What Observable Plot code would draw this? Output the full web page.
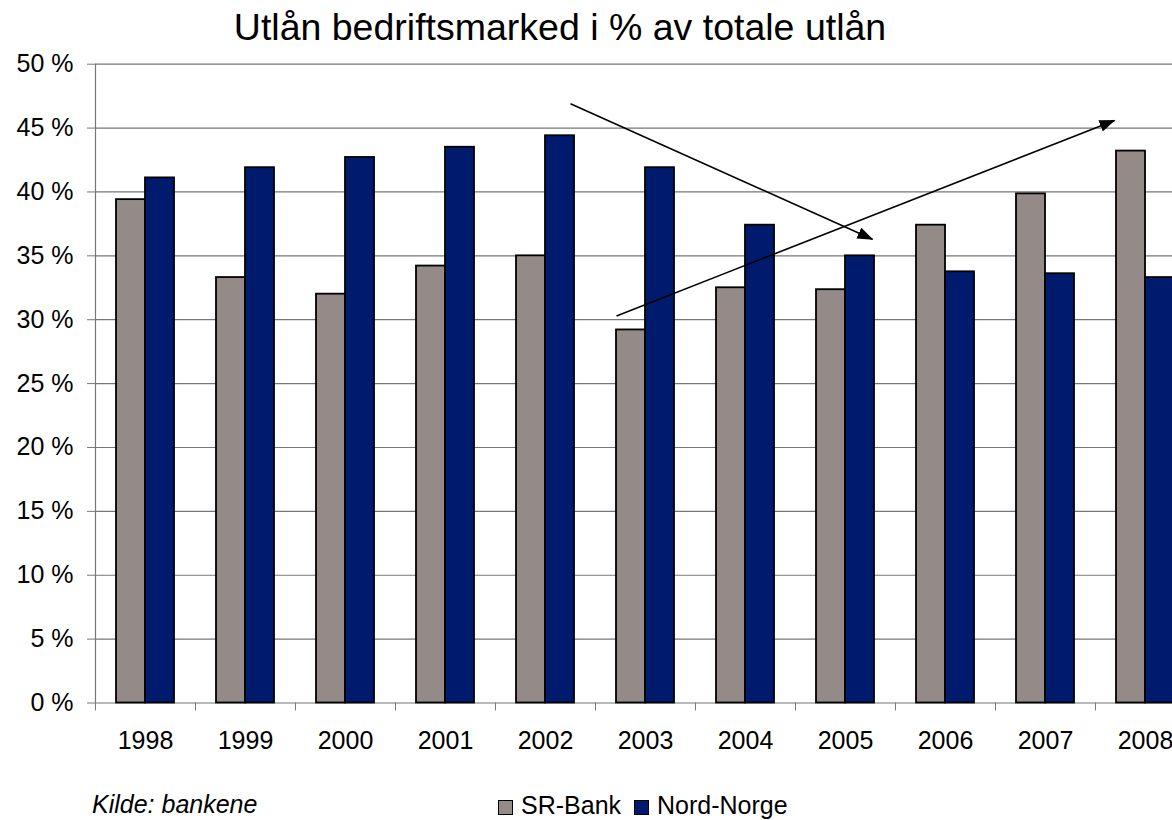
<!DOCTYPE html>
<html>
<head>
<meta charset="utf-8">
<script src="https://cdn.jsdelivr.net/npm/d3@7"></script>
<script src="https://cdn.jsdelivr.net/npm/@observablehq/plot@0.6"></script>
<style>
  html, body { margin: 0; padding: 0; background: #fff; }
  #wrap { position: relative; width: 1172px; height: 820px; overflow: hidden; background: #fff;
          font-family: "Liberation Sans", Arial, sans-serif; color: #000; }
  #title { position: relative; height: 50px; }
  #title span { position: absolute; left: 0; width: 1120px; top: 9px; text-align: center;
                font-size: 37.5px; line-height: 37.5px; white-space: nowrap; }
  #chart { height: 720px; }
  #chart svg { display: block; overflow: hidden; }
  #footer { position: relative; height: 50px; }
  #source { position: absolute; left: 92px; top: 22px; font-size: 25px; line-height: 25px; font-style: italic; white-space: nowrap; }
  #legend { position: absolute; left: 498px; top: 23px; font-size: 25px; line-height: 25px; white-space: nowrap; display: flex; align-items: center; }
  .sw { display: inline-block; width: 13px; height: 13px; border: 1px solid #000; margin-right: 8px; position: relative; top: 2px; }
  .item { display: inline-flex; align-items: center; margin-right: 13px; }
</style>
</head>
<body>
<div id="wrap">
  <div id="title"><span>Utlån bedriftsmarked i % av totale utlån</span></div>
  <div id="chart"></div>
  <div id="footer">
    <div id="source">Kilde: bankene</div>
    <div id="legend"></div>
  </div>
</div>
<script>
// ---- data ----
const years = [1998, 1999, 2000, 2001, 2002, 2003, 2004, 2005, 2006, 2007, 2008];
const srBank = [39.4, 33.3, 32.0, 34.2, 35.0, 29.2, 32.5, 32.35, 37.4, 39.85, 43.2];
const nordNorge = [41.1, 41.9, 42.7, 43.5, 44.4, 41.9, 37.4, 35.0, 33.75, 33.6, 33.3];
const seriesNames = ["SR-Bank", "Nord-Norge"];
const seriesColors = ["#948a87", "#001a6e"];
const yTicks = [0, 5, 10, 15, 20, 25, 30, 35, 40, 45, 50];
// annotation arrows, in data units (year, percent)
const arrowStartX = [2002.25, 2002.71];
const arrowStartY = [46.9, 30.3];
const arrowEndX = [2005.27, 2007.69];
const arrowEndY = [36.3, 45.6];

// ---- derived tables ----
const halfBar = 0.29;
const rows = [];
years.forEach((yr, i) => {
  rows.push({year: yr, series: seriesNames[0], value: srBank[i]});
  rows.push({year: yr, series: seriesNames[1], value: nordNorge[i]});
});
const arrows = arrowStartX.map((x, i) => ({x1: x, y1: arrowStartY[i], x2: arrowEndX[i], y2: arrowEndY[i]}));
const xDomain = [years[0] - 0.5, years[years.length - 1] + 0.5];
const boundaries = years.map(y => y - 0.5);
const gray = "#777777";

const chart = Plot.plot({
  width: 1172,
  height: 720,
  marginTop: 13.7,
  marginBottom: 67.5,
  marginLeft: 95,
  marginRight: 0,
  style: {fontSize: "25px", fontFamily: "'Liberation Sans', Arial, sans-serif", color: "#000", background: "#fff"},
  x: {type: "linear", domain: xDomain, range: [95, 1195], label: null},
  y: {domain: [0, 50], label: null},
  color: {domain: seriesNames, range: seriesColors},
  marks: [
    Plot.ruleY(yTicks, {stroke: gray, strokeWidth: 1.2}),
    Plot.rect(rows, {
      x1: d => d.series === seriesNames[0] ? d.year - halfBar : d.year,
      x2: d => d.series === seriesNames[0] ? d.year : d.year + halfBar,
      y1: 0,
      y2: "value",
      fill: "series",
      stroke: "#000",
      strokeWidth: 1.8
    }),
    Plot.ruleX([xDomain[0]], {y1: 0, y2: 50, stroke: gray, strokeWidth: 1.2}),
    Plot.link(arrows, {x1: "x1", y1: "y1", x2: "x2", y2: "y2", stroke: "#000", strokeWidth: 1.6}),
    Plot.axisY({ticks: yTicks, tickSize: 8, tickPadding: 14, tickFormat: d => d + " %", stroke: gray, fill: "#000", label: null}),
    Plot.axisX({ticks: years, tickSize: 0, tickPadding: 28, tickFormat: d => String(d), fill: "#000", label: null}),
    Plot.axisX({ticks: boundaries, tickSize: 8, stroke: gray, fill: "none", tickFormat: d => "", label: null})
  ]
});

// filled arrowheads on the annotation links
(function addHeads(svg) {
  const ns = "http://www.w3.org/2000/svg";
  const defs = document.createElementNS(ns, "defs");
  const marker = document.createElementNS(ns, "marker");
  marker.setAttribute("id", "headFill");
  marker.setAttribute("markerUnits", "userSpaceOnUse");
  marker.setAttribute("markerWidth", "16");
  marker.setAttribute("markerHeight", "12");
  marker.setAttribute("refX", "15");
  marker.setAttribute("refY", "6");
  marker.setAttribute("orient", "auto");
  const p = document.createElementNS(ns, "path");
  p.setAttribute("d", "M0,0L16,6L0,12Z");
  p.setAttribute("fill", "#000");
  marker.appendChild(p);
  defs.appendChild(marker);
  svg.insertBefore(defs, svg.firstChild);
  const g = svg.querySelector('g[aria-label="link"]');
  if (g) g.querySelectorAll("path").forEach(el => el.setAttribute("marker-end", "url(#headFill)"));
})(chart);

document.getElementById("chart").appendChild(chart);

// legend
const legend = document.getElementById("legend");
seriesNames.forEach((name, i) => {
  const item = document.createElement("span");
  item.className = "item";
  const sw = document.createElement("span");
  sw.className = "sw";
  sw.style.background = seriesColors[i];
  item.appendChild(sw);
  item.appendChild(document.createTextNode(name));
  legend.appendChild(item);
});
</script>
</body>
</html>
